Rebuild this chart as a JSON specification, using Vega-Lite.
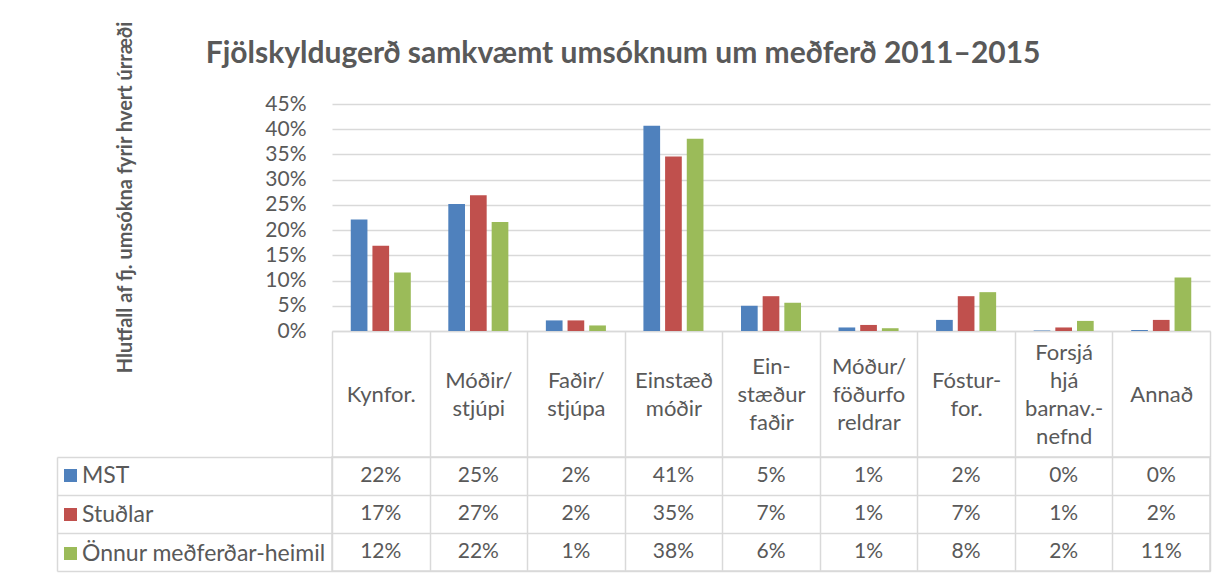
{
  "$schema": "https://vega.github.io/schema/vega-lite/v6.json",
  "background": "white",
  "padding": {"left": 55, "top": 20, "right": 16, "bottom": 8},
  "title": {"text": "Fjölskyldugerð samkvæmt umsóknum um meðferð  2011–2015", "font": "Lato", "fontSize": 30, "fontWeight": "bold", "color": "#595959", "anchor": "middle", "offset": -48, "dx": -10},
  "config": {"font": "Lato", "view": {"stroke": null}},
  "datasets": {
    "d": [
      {"category": "Kynfor.", "series": "MST", "value": 0.221},
      {"category": "Kynfor.", "series": "Stuðlar", "value": 0.169},
      {"category": "Kynfor.", "series": "Önnur meðferðar-heimil", "value": 0.116},
      {"category": "Móðir/\nstjúpi", "series": "MST", "value": 0.252},
      {"category": "Móðir/\nstjúpi", "series": "Stuðlar", "value": 0.269},
      {"category": "Móðir/\nstjúpi", "series": "Önnur meðferðar-heimil", "value": 0.216},
      {"category": "Faðir/\nstjúpa", "series": "MST", "value": 0.021},
      {"category": "Faðir/\nstjúpa", "series": "Stuðlar", "value": 0.021},
      {"category": "Faðir/\nstjúpa", "series": "Önnur meðferðar-heimil", "value": 0.011},
      {"category": "Einstæð\nmóðir", "series": "MST", "value": 0.407},
      {"category": "Einstæð\nmóðir", "series": "Stuðlar", "value": 0.346},
      {"category": "Einstæð\nmóðir", "series": "Önnur meðferðar-heimil", "value": 0.381},
      {"category": "Ein-\nstæður\nfaðir", "series": "MST", "value": 0.050},
      {"category": "Ein-\nstæður\nfaðir", "series": "Stuðlar", "value": 0.069},
      {"category": "Ein-\nstæður\nfaðir", "series": "Önnur meðferðar-heimil", "value": 0.056},
      {"category": "Móður/\nföðurfo\nreldrar", "series": "MST", "value": 0.007},
      {"category": "Móður/\nföðurfo\nreldrar", "series": "Stuðlar", "value": 0.012},
      {"category": "Móður/\nföðurfo\nreldrar", "series": "Önnur meðferðar-heimil", "value": 0.0055},
      {"category": "Fóstur-\nfor.", "series": "MST", "value": 0.022},
      {"category": "Fóstur-\nfor.", "series": "Stuðlar", "value": 0.069},
      {"category": "Fóstur-\nfor.", "series": "Önnur meðferðar-heimil", "value": 0.077},
      {"category": "Forsjá\nhjá\nbarnav.-\nnefnd", "series": "MST", "value": 0.001},
      {"category": "Forsjá\nhjá\nbarnav.-\nnefnd", "series": "Stuðlar", "value": 0.007},
      {"category": "Forsjá\nhjá\nbarnav.-\nnefnd", "series": "Önnur meðferðar-heimil", "value": 0.020},
      {"category": "Annað", "series": "MST", "value": 0.002},
      {"category": "Annað", "series": "Stuðlar", "value": 0.022},
      {"category": "Annað", "series": "Önnur meðferðar-heimil", "value": 0.106}
    ]
  },
  "bounds": "flush",
  "spacing": 126,
  "resolve": {"scale": {"color": "independent"}, "legend": {"color": "independent"}},
  "vconcat": [
    {
      "width": 878,
      "height": 227,
      "view": {"stroke": null},
      "data": {"name": "d"},
      "mark": {"type": "bar"},
      "encoding": {
        "x": {
          "field": "category", "type": "nominal", "sort": null,
          "scale": {"paddingInner": 0, "paddingOuter": 0},
          "axis": {
            "title": null, "domain": true, "domainColor": "#D9D9D9", "domainWidth": 1.5,
            "ticks": true, "tickBand": "extent", "tickSize": 126, "tickColor": "#D9D9D9", "tickWidth": 1.5,
            "labelExpr": "split(slice('\u200b\\n\u200b\\n\u200b\\n', 0, 2 * (4 - length(split(datum.label, '\\n')))) + join(split(datum.label, '\\n'), '\\n\u200b\\n'), '\\n')",
            "labelFont": "Lato", "labelFontSize": 22, "labelColor": "#595959",
            "labelPadding": -105, "labelBaseline": "middle", "labelLineHeight": 14, "labelAngle": 0,
            "labelOverlap": false, "labelLimit": 0, "grid": false
          }
        },
        "xOffset": {"field": "series", "type": "nominal", "sort": null, "scale": {"paddingInner": 0.23, "paddingOuter": 0.865}},
        "y": {
          "field": "value", "type": "quantitative",
          "scale": {"domain": [0, 0.45]},
          "axis": {
            "values": [0, 0.05, 0.1, 0.15, 0.2, 0.25, 0.3, 0.35, 0.4, 0.45], "format": ".0%",
            "title": "Hlutfall af fj. umsókna fyrir hvert úrræði", "titleFont": "Lato", "titleFontSize": 20,
            "titleFontWeight": "bold", "titleColor": "#595959", "titleX": -197, "titleY": 93,
            "labelFont": "Lato", "labelFontSize": 21, "labelColor": "#595959", "labelPadding": 26,
            "domain": false, "ticks": false, "grid": true, "gridColor": "#D9D9D9", "gridWidth": 1.5
          }
        },
        "color": {
          "field": "series", "type": "nominal",
          "scale": {"domain": ["MST", "Stuðlar", "Önnur meðferðar-heimil"], "range": ["#4F81BD", "#C0504D", "#9BBB59"]},
          "legend": {
            "orient": "none", "legendX": -273, "legendY": 360, "title": null, "direction": "vertical",
            "symbolType": "square", "symbolSize": 169, "symbolStrokeWidth": 0, "symbolOpacity": 1,
            "labelFont": "Lato", "labelFontSize": 23, "labelColor": "#595959", "labelLimit": 400,
            "labelOffset": 0, "rowPadding": 15, "padding": 0
          }
        }
      }
    },
    {
      "width": 878,
      "height": 114,
      "view": {"stroke": "#D9D9D9", "strokeWidth": 1.5},
      "data": {"name": "d"},
      "mark": {"type": "text", "font": "Lato", "fontSize": 21, "color": "#595959"},
      "encoding": {
        "x": {
          "field": "category", "type": "nominal", "sort": null,
          "scale": {"paddingInner": 0, "paddingOuter": 0},
          "axis": {"title": null, "labels": false, "ticks": false, "domain": false, "grid": true, "tickBand": "extent", "gridColor": "#D9D9D9", "gridWidth": 1.5}
        },
        "y": {
          "field": "series", "type": "nominal", "sort": null,
          "scale": {"paddingInner": 0, "paddingOuter": 0},
          "axis": {
            "title": null, "orient": "left", "offset": 275, "labels": false,
            "domain": true, "domainColor": "#D9D9D9", "domainWidth": 1.5,
            "ticks": true, "tickSize": -275, "tickBand": "extent", "tickColor": "#D9D9D9", "tickWidth": 1.5,
            "grid": true, "gridColor": "#D9D9D9", "gridWidth": 1.5
          }
        },
        "text": {"field": "value", "type": "quantitative", "format": ".0%"}
      }
    }
  ]
}
